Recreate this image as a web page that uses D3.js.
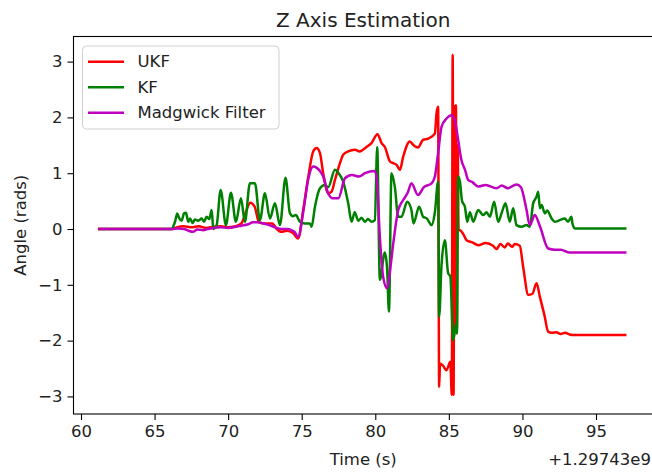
<!DOCTYPE html>
<html>
<head>
<meta charset="utf-8">
<script src="https://cdn.jsdelivr.net/npm/d3@7"></script>
<style>
  html, body { margin: 0; padding: 0; background: #fff; }
  svg { display: block; font-family: "DejaVu Sans", sans-serif; }
</style>
</head>
<body>
<svg id="chart" width="652" height="474"></svg>
<script>
// ---- data (time offset from 1.29743e9 s, angle in rads) ----
const ukfT = [61.15,66.2,66.5,67.0,67.5,68.0,68.5,69.0,69.5,70.0,70.5,70.9,71.2,71.5,71.8,72.1,72.5,73.0,73.3,73.6,74.0,74.4,74.76,75.1,75.45,75.78,76.01,76.24,76.46,76.8,77.03,77.26,77.6,77.82,78.16,78.61,78.95,79.4,79.74,80.15,80.43,80.65,81.0,81.22,81.45,81.67,81.9,82.35,82.6,82.9,83.25,83.6,84.05,84.16,84.27,84.34,84.4,84.6,84.84,85.1,85.2,85.26,85.32,85.38,85.43,85.48,85.54,85.6,85.66,85.75,86.0,86.2,86.6,87.0,87.5,88.0,88.24,88.5,88.8,89.0,89.3,89.48,89.82,90.05,90.4,90.68,90.96,91.19,91.5,91.75,92.0,92.3,92.6,92.9,93.2,93.4,97.07];
const ukfV = [0,0,0.03,0.05,0.03,0.05,0.02,0.04,0.05,0.03,0.05,0.1,0.3,0.47,0.4,0.12,0.1,0.1,0.0,-0.05,-0.03,-0.07,-0.17,0.34,0.94,1.39,1.45,1.36,1.0,0.64,0.67,0.88,1.18,1.33,1.39,1.42,1.39,1.47,1.54,1.70,1.54,1.47,1.21,1.18,1.15,1.06,1.30,1.57,1.5,1.46,1.6,1.62,1.71,2.07,2.19,-2.83,-2.41,-2.45,-2.53,-2.38,-2.97,3.12,-2.97,2.2,-1.85,2.22,-1.87,1.5,-0.02,-0.02,-0.1,-0.2,-0.24,-0.29,-0.25,-0.3,-0.36,-0.27,-0.33,-0.26,-0.32,-0.27,-0.3,-0.68,-1.18,-1.16,-0.97,-1.22,-1.55,-1.84,-1.86,-1.85,-1.88,-1.86,-1.89,-1.9,-1.9];

const kfT = [61.15,66.2,66.3,66.39,66.54,66.68,66.84,67.0,67.13,67.29,67.4,67.59,67.74,67.97,68.2,68.36,68.54,68.72,68.88,68.99,69.22,69.49,69.85,70.19,70.53,70.87,71.14,71.48,71.82,72.16,72.5,72.84,73.18,73.52,73.9,74.2,74.4,74.6,74.88,75.22,75.56,75.67,75.9,76.24,76.57,76.8,77.26,77.5,77.82,78.16,78.39,78.6,78.84,79.07,79.3,79.5,79.75,79.97,80.13,80.31,80.65,80.8,80.93,81.1,81.33,81.56,81.78,82.17,82.45,82.6,82.98,83.25,83.5,83.83,84.05,84.27,84.34,84.5,84.73,84.95,85.1,85.3,85.5,85.55,85.63,85.75,85.9,86.09,86.25,86.43,86.66,86.99,87.33,87.56,87.79,88.08,88.35,88.58,88.85,89.14,89.37,89.6,89.94,90.28,90.5,90.73,90.96,91.07,91.19,91.3,91.53,91.68,91.98,92.2,92.54,92.88,93.1,93.33,93.4,93.56,97.07];
const kfV = [0,0,0.07,0.13,0.28,0.19,0.15,0.28,0.29,0.13,0.19,0.11,0.17,0.15,0.19,0.13,0.22,0.18,0.34,0.0,0.07,0.70,0.07,0.65,0.13,0.55,0.13,0.82,0.82,0.16,0.64,0.19,0.46,0.07,0.92,0.28,0.23,0.25,0.13,0.1,0.1,0.04,0.4,0.73,0.79,0.75,1.06,1.0,0.85,0.46,0.13,0.3,0.15,0.2,0.13,0.18,0.13,0.16,1.47,-0.91,-0.42,-0.7,-1.48,1.0,0.75,0.22,0.22,0.49,0.35,0.1,0.4,0.22,0.19,0.07,0.3,0.85,-1.57,-0.65,-0.2,-0.79,-0.85,-1.99,-1.7,-1.87,0.94,0.85,0.5,0.4,0.13,0.3,0.13,0.34,0.25,0.3,0.22,0.49,0.13,0.28,0.46,0.13,0.37,0.07,0.04,0.07,0.04,0.46,0.58,0.67,0.37,0.43,0.28,0.33,0.19,0.13,0.16,0.19,0.13,0.22,0.1,0.01,0.01];

const mwT = [61.15,66.2,66.6,67.0,67.3,67.6,67.9,68.3,68.6,69.0,69.5,70.0,70.5,70.9,71.3,71.7,72.0,72.4,72.8,73.2,73.6,74.0,74.3,74.5,74.76,75.1,75.45,75.78,76.0,76.46,76.8,77.1,77.49,77.94,78.4,78.9,79.3,79.97,80.1,80.31,80.53,80.8,80.95,81.22,81.56,81.9,82.2,82.46,82.9,83.3,83.83,84.05,84.27,84.5,84.84,85.18,85.4,85.63,85.85,86.1,86.31,86.6,86.99,87.5,88.24,88.6,89.0,89.6,89.9,90.28,90.5,90.84,91.19,91.75,92.2,92.6,93.2,97.07];
const mwV = [0,0,0.01,0.0,-0.03,-0.05,-0.01,-0.02,0.0,0.02,0.03,0.02,0.04,0.06,0.08,0.12,0.12,0.1,0.07,0.03,0.0,0.0,-0.02,-0.05,-0.14,0.3,0.9,1.12,1.1,0.94,0.64,0.55,0.55,0.91,0.97,0.94,1.0,1.04,0.9,-0.14,-0.85,-1.06,-0.85,-0.26,0.34,0.52,0.65,0.82,0.61,0.75,0.82,0.94,1.36,1.83,1.98,2.04,1.95,1.6,1.24,1.06,0.88,0.84,0.76,0.79,0.73,0.78,0.73,0.8,0.75,0.34,0.07,0.25,0.05,-0.35,-0.37,-0.37,-0.42,-0.42];

const xTicks = [60,65,70,75,80,85,90,95];
const yTicks = [-3,-2,-1,0,1,2,3];
const seriesNames = ["UKF","KF","Madgwick Filter"];
const seriesColors = ["#ff0000","#008000","#bf00bf"];

// ---- layout ----
const L = 73.5, R = 655, T = 36.5, B = 414;
const svg = d3.select("#chart");
const x = d3.scaleLinear().domain([59.49, 99.01]).range([L, R]);
const y = d3.scaleLinear().domain([-3.315, 3.45]).range([B, T]);

svg.append("defs").append("clipPath").attr("id","clip")
  .append("rect").attr("x",L).attr("y",T).attr("width",R-L).attr("height",B-T);

const series = [
  {name: seriesNames[0], color: seriesColors[0], t: ukfT, v: ukfV},
  {name: seriesNames[1], color: seriesColors[1], t: kfT, v: kfV},
  {name: seriesNames[2], color: seriesColors[2], t: mwT, v: mwV}
];

const line = d3.line().x(d => x(d[0])).y(d => y(d[1])).curve(d3.curveMonotoneX);
const g = svg.append("g").attr("clip-path","url(#clip)");
series.forEach(s => {
  g.append("path")
    .datum(s.t.map((t,i) => [t, s.v[i]]))
    .attr("fill","none")
    .attr("stroke", s.color)
    .attr("stroke-width", 2.5)
    .attr("stroke-linejoin","round")
    .attr("d", line);
});

// axes
const fs = 16.5;
const xAxis = svg.append("g").attr("transform", `translate(0,${B})`)
  .call(d3.axisBottom(x).tickValues(xTicks).tickSize(6).tickPadding(5).tickFormat(d3.format("d")));
const yAxis = svg.append("g").attr("transform", `translate(${L},0)`)
  .call(d3.axisLeft(y).tickValues(yTicks).tickSize(6).tickPadding(5).tickFormat(d => d < 0 ? "\u2212" + Math.abs(d) : String(d)));
[xAxis, yAxis].forEach(a => {
  a.select(".domain").remove();
  a.selectAll(".tick line").attr("stroke","#000").attr("stroke-width",1.1);
  a.selectAll(".tick text").attr("font-size", fs).attr("fill","#222").attr("font-family","DejaVu Sans");
});

// spines
svg.append("rect").attr("x",L).attr("y",T).attr("width",R-L).attr("height",B-T)
  .attr("fill","none").attr("stroke","#000").attr("stroke-width",1.1);

// title and labels
svg.append("text").attr("x",(L+R)/2 - 1).attr("y",27).attr("text-anchor","middle")
  .attr("font-size",20).attr("fill","#222").text("Z Axis Estimation");
svg.append("text").attr("x",(L+R)/2 - 1).attr("y",465).attr("text-anchor","middle")
  .attr("font-size",fs).attr("fill","#222").text("Time (s)");
svg.append("text").attr("x",651).attr("y",465).attr("text-anchor","end")
  .attr("font-size",fs).attr("fill","#222").text("+1.29743e9");
svg.append("text").attr("transform",`translate(26,${(T+B)/2}) rotate(-90)`).attr("text-anchor","middle")
  .attr("font-size",fs).attr("fill","#222").text("Angle (rads)");

// legend
const lg = svg.append("g");
lg.append("rect").attr("x",82.5).attr("y",46).attr("width",196.5).attr("height",83).attr("rx",4)
  .attr("fill","#fff").attr("fill-opacity",0.8).attr("stroke","#d0d0d0").attr("stroke-width",1);
const rowY = [61.7, 87.3, 112.7];
series.forEach((s,i) => {
  lg.append("line").attr("x1",88).attr("x2",124).attr("y1",rowY[i]).attr("y2",rowY[i])
    .attr("stroke",s.color).attr("stroke-width",2.5);
  lg.append("text").attr("x",137.5).attr("y",rowY[i]).attr("dy","0.35em")
    .attr("font-size",fs).attr("fill","#222").text(s.name);
});
</script>
</body>
</html>
